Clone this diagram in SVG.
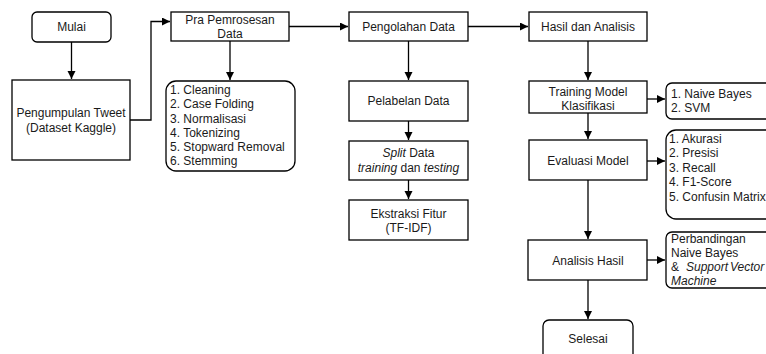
<svg xmlns="http://www.w3.org/2000/svg" width="766" height="354" viewBox="0 0 766 354">
<style>
.box{fill:#fff;stroke:#000;stroke-width:1.3}
.t{font-family:"Liberation Sans",Arial,sans-serif;font-size:12px;fill:#1a1a1a}
.c{text-anchor:middle}
.i{font-style:italic}
.edge{fill:none;stroke:#000;stroke-width:1.3}
</style>
<defs>
<marker id="ah" markerUnits="userSpaceOnUse" markerWidth="9" markerHeight="9" refX="8" refY="4" orient="auto">
<path d="M0,0 L8,4 L0,8 Z" fill="#000"/>
</marker>
</defs>
<rect width="766" height="354" fill="#fff"/>
<g id="connectors">
<path class="edge" d="M71.5,42 V79" marker-end="url(#ah)"/>
<path class="edge" d="M130,120 H151 V21.5 H170" marker-end="url(#ah)"/>
<path class="edge" d="M230,41 V80" marker-end="url(#ah)"/>
<path class="edge" d="M289,26.5 H348" marker-end="url(#ah)"/>
<path class="edge" d="M408.5,41 V80" marker-end="url(#ah)"/>
<path class="edge" d="M408.5,121 V140" marker-end="url(#ah)"/>
<path class="edge" d="M408.5,180 V199" marker-end="url(#ah)"/>
<path class="edge" d="M468,26.5 H528" marker-end="url(#ah)"/>
<path class="edge" d="M588,41 V80" marker-end="url(#ah)"/>
<path class="edge" d="M588,113 V139" marker-end="url(#ah)"/>
<path class="edge" d="M647,99 H665" marker-end="url(#ah)"/>
<path class="edge" d="M647,161 H665" marker-end="url(#ah)"/>
<path class="edge" d="M588,180 V239" marker-end="url(#ah)"/>
<path class="edge" d="M647,260 H665" marker-end="url(#ah)"/>
<path class="edge" d="M588,280 V319" marker-end="url(#ah)"/>
</g>
<g id="mulai">
<rect class="box" x="32" y="12" width="79" height="30" rx="5"/>
<text class="t c" x="71.5" y="31">Mulai</text>
</g>
<g id="pengumpulan">
<rect class="box" x="12" y="80" width="118" height="80"/>
<text class="t c" x="71" y="117">Pengumpulan Tweet</text>
<text class="t c" x="71" y="132">(Dataset Kaggle)</text>
</g>
<g id="pra">
<rect class="box" x="171" y="12" width="118" height="29"/>
<text class="t c" x="230" y="24">Pra Pemrosesan</text>
<text class="t c" x="230" y="38">Data</text>
</g>
<g id="pra-list">
<rect class="box" x="166" y="81" width="129" height="90" rx="10"/>
<text class="t" x="170" y="93.5">1. Cleaning</text>
<text class="t" x="170" y="108">2. Case Folding</text>
<text class="t" x="170" y="122.5">3. Normalisasi</text>
<text class="t" x="170" y="137">4. Tokenizing</text>
<text class="t" x="170" y="151">5. Stopward Removal</text>
<text class="t" x="170" y="165">6. Stemming</text>
</g>
<g id="pengolahan">
<rect class="box" x="349" y="12" width="119" height="29"/>
<text class="t c" x="408.5" y="30.5">Pengolahan Data</text>
</g>
<g id="pelabelan">
<rect class="box" x="349" y="81" width="119" height="40"/>
<text class="t c" x="408.5" y="105">Pelabelan Data</text>
</g>
<g id="split">
<rect class="box" x="349" y="141" width="119" height="39"/>
<text class="t c" x="408.5" y="157"><tspan class="i">Split</tspan> Data</text>
<text class="t c" x="408.5" y="172"><tspan class="i">training</tspan> dan <tspan class="i">testing</tspan></text>
</g>
<g id="ekstraksi">
<rect class="box" x="349" y="200" width="119" height="40"/>
<text class="t c" x="408.5" y="217.5">Ekstraksi Fitur</text>
<text class="t c" x="408.5" y="231.5">(TF-IDF)</text>
</g>
<g id="hasil">
<rect class="box" x="529" y="12" width="118" height="29"/>
<text class="t c" x="588" y="30.5">Hasil dan Analisis</text>
</g>
<g id="training">
<rect class="box" x="529" y="81" width="118" height="32"/>
<text class="t c" x="588" y="96">Training Model</text>
<text class="t c" x="588" y="109.5">Klasifikasi</text>
</g>
<g id="training-list">
<rect class="box" x="666" y="83" width="120" height="36" rx="6"/>
<text class="t" x="671" y="98">1. Naive Bayes</text>
<text class="t" x="671" y="111.5">2. SVM</text>
</g>
<g id="evaluasi">
<rect class="box" x="529" y="140" width="118" height="40"/>
<text class="t c" x="588" y="164.5">Evaluasi Model</text>
</g>
<g id="evaluasi-list">
<rect class="box" x="666" y="130" width="120" height="89" rx="10"/>
<text class="t" x="669" y="142.5">1. Akurasi</text>
<text class="t" x="669" y="157">2. Presisi</text>
<text class="t" x="669" y="171.5">3. Recall</text>
<text class="t" x="669" y="186">4. F1-Score</text>
<text class="t" x="669" y="200.5">5. Confusin Matrix</text>
</g>
<g id="analisis">
<rect class="box" x="528" y="240" width="119" height="40"/>
<text class="t c" x="588" y="264.5">Analisis Hasil</text>
</g>
<g id="analisis-note">
<rect class="box" x="666" y="232" width="120" height="56" rx="6"/>
<text class="t" x="671" y="242.5">Perbandingan</text>
<text class="t" x="671" y="256.5">Naive Bayes</text>
<text class="t" y="271"><tspan x="671">&amp;</tspan><tspan class="i" x="686">Support</tspan><tspan class="i" x="730">Vector</tspan></text>
<text class="t i" x="671" y="285">Machine</text>
</g>
<g id="selesai">
<rect class="box" x="543" y="320" width="90" height="45" rx="6"/>
<text class="t c" x="588" y="342.5">Selesai</text>
</g>
</svg>
